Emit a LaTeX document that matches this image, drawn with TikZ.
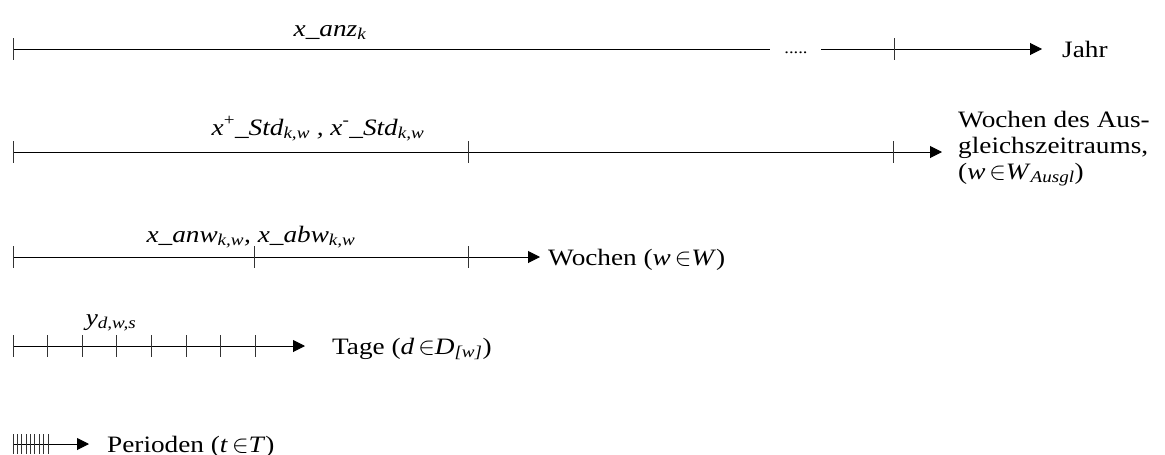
\documentclass[tikz,border=0pt]{standalone}
\usepackage{fontspec}
\setmainfont[FakeStretch=1.16]{Liberation Serif}
\usetikzlibrary{arrows.meta}
\tikzset{
  axisline/.style={line width=1pt, draw=black},
  axarrow/.style={axisline, -{Triangle[length=12pt,width=12pt]}},
  tickmark/.style={line width=1pt, draw=black!80},
  lbl/.style={inner sep=0pt, anchor=base, font=\fontsize{23.5}{26}\selectfont\itshape},
  axtext/.style={inner sep=0pt, anchor=base west, align=left, font=\fontsize{23.5}{26}\selectfont},
}
\newcommand\isub[1]{\textsubscript{\itshape #1}}
\newcommand\isup[1]{\textsuperscript{\upshape #1}}
\newcommand\elem{\,$\in$}
\begin{document}
\begin{tikzpicture}[x=1pt,y=-1pt]
\useasboundingbox (0,0) rectangle (1165,455);
% Row 1: Jahr
\coordinate (a1s) at (13,49);
\coordinate (a1m) at (770,49);
\coordinate (a1r) at (821,49);
\coordinate (a1e) at (1042,49);
\draw[axisline] (a1s) -- (a1m);
\draw[axarrow] (a1r) -- (a1e);
\node[inner sep=0pt, anchor=base, font=\fontsize{16}{18}\selectfont] (dots) at (796,53) {.....};
\foreach \x in {13,894} \draw[tickmark] (\x,38) -- (\x,60);
\node[lbl] (l1) at (330,36) {x\_anz\isub{k}};
\node[axtext] (t1) at (1062,57) {Jahr};
% Row 2: Ausgleichszeitraum
\coordinate (a2s) at (13,152);
\coordinate (a2e) at (942,152);
\draw[axarrow] (a2s) -- (a2e);
\foreach \x in {13,468,893} \draw[tickmark] (\x,141) -- (\x,163);
\node[lbl] (l2) at (318,135) {x\isup{+}\_Std\isub{k,w} , x\isup{-}\_Std\isub{k,w}};
\node[axtext] (t2) at (958,179) {Wochen des Aus-\\gleichszeitraums,\\(\textit{w}\elem\textit{W}\isub{Ausgl})};
% Row 3: Wochen
\coordinate (a3s) at (13,257);
\coordinate (a3e) at (540,257);
\draw[axarrow] (a3s) -- (a3e);
\foreach \x in {13,254,468} \draw[tickmark] (\x,246) -- (\x,268);
\node[lbl] (l3) at (251,242) {x\_anw\isub{k,w}, x\_abw\isub{k,w}};
\node[axtext] (t3) at (548,265) {Wochen (\textit{w}\elem\textit{W})};
% Row 4: Tage
\coordinate (a4s) at (13,346);
\coordinate (a4e) at (305,346);
\draw[axarrow] (a4s) -- (a4e);
\foreach \i in {0,...,7} \draw[tickmark] (13+34.6*\i,335) -- (13+34.6*\i,357);
\node[lbl] (l4) at (111,325) {y\isub{d,w,s}};
\node[axtext] (t4) at (332,354) {Tage (\textit{d}\elem\textit{D}\isub{[w]})};
% Row 5: Perioden
\coordinate (a5s) at (13,444);
\coordinate (a5e) at (89,444);
\draw[axarrow] (a5s) -- (a5e);
\foreach \i in {0,...,8} \draw[tickmark] (13+4.375*\i,434) -- (13+4.375*\i,454);
\node[axtext] (t5) at (107,452) {Perioden (\textit{t}\elem\textit{T})};
\end{tikzpicture}
\end{document}
